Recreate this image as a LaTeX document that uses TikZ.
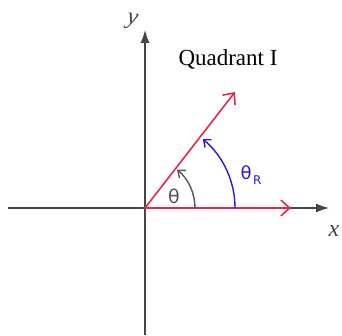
\documentclass[tikz,border=0pt]{standalone}
\usepackage{fontspec}
\setmainfont{Liberation Serif}
\newfontfamily\handfont{DejaVu Sans}
\usetikzlibrary{arrows.meta,calc}
\definecolor{axisgray}{RGB}{70,70,70}
\definecolor{vecred}{RGB}{228,40,75}
\definecolor{arcblue}{RGB}{45,25,200}
\definecolor{arcgray}{RGB}{85,85,85}
\tikzset{
  axisline/.style={draw=axisgray, line width=1.1pt, -{Latex[length=13pt,width=9pt]}},
  vecline/.style={draw=vecred, line width=1.6pt, line cap=round, -{Straight Barb[length=9pt,width=16pt]}},
  arcline/.style={line width=1.4pt, -{Straight Barb[length=6pt,width=10pt]}},
  handlbl/.style={font=\itshape\fontsize{24}{24}\selectfont, inner sep=0pt},
}
\begin{document}
\begin{tikzpicture}[x=1pt,y=1pt]
\useasboundingbox (0,0) rectangle (342,335);
\coordinate (O) at (145,127);
\coordinate (ybot) at (145,0);
\coordinate (ytop) at (145,305);
\coordinate (xleft) at (8,127);
\coordinate (xright) at (329,127);
\coordinate (rtip) at (235,243);
\coordinate (htip) at (291,127);
% axes
\draw[axisline] (ybot) -- (ytop);
\draw[axisline] (xleft) -- (xright);
% red vectors
\draw[vecline] (O) -- (htip);
\draw[vecline] (O) -- (rtip);
% arcs
\draw[arcline, draw=arcgray] ($(O)+(50,0)$) arc[start angle=0, end angle=50, radius=50pt];
\draw[arcline, draw=arcblue] ($(O)+(90,0)$) arc[start angle=0, end angle=50, radius=90pt];
% labels
\node[handlbl, text=axisgray, rotate=-10] (ylbl) at (132,313) {y};
\node[handlbl, text=axisgray] (xlbl) at (334,104) {x};
\node[inner sep=0pt, font=\fontsize{23}{23}\selectfont] (quad) at (228,276) {Quadrant I};
\node[inner sep=0pt, text=arcgray, font=\handfont\fontsize{19}{19}\selectfont] (th) at (174,139) {θ};
\node[inner sep=0pt, text=arcblue, font=\handfont\fontsize{18}{18}\selectfont] (thR) at (251,160) {θ\kern1.5pt\raisebox{-5pt}{\fontsize{12}{12}\selectfont R}};
\end{tikzpicture}
\end{document}
